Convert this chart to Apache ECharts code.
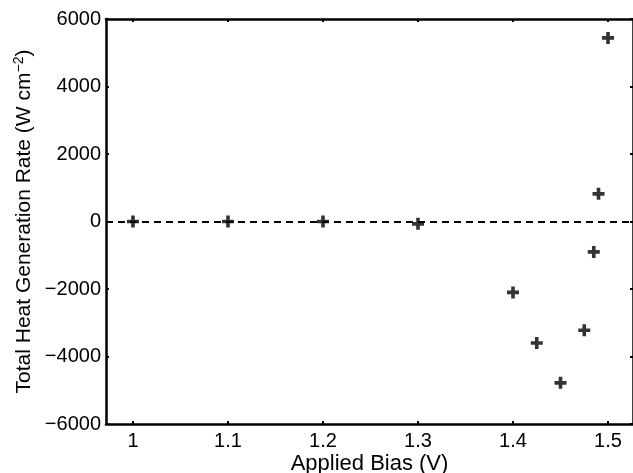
<!DOCTYPE html>
<html>
<head>
<meta charset="utf-8">
<script src="https://cdn.jsdelivr.net/npm/echarts@6/dist/echarts.min.js"></script>
<style>
  html, body { margin: 0; padding: 0; background: #fff; }
  #chart { width: 633px; height: 473px; }
</style>
</head>
<body>
<div id="chart"></div>
<script>
// Applied bias (V) and total heat generation rate (W cm^-2)
const biasValues = [1.0, 1.1, 1.2, 1.3, 1.4, 1.425, 1.45, 1.475, 1.485, 1.49, 1.5];
const heatRate   = [0, 0, 0, -70, -2100, -3600, -4780, -3220, -900, 820, 5440];
const xTicks = [1, 1.1, 1.2, 1.3, 1.4, 1.5];
const yTicks = [-6000, -4000, -2000, 0, 2000, 4000, 6000];

const FONT = 'Liberation Sans, Arial, Helvetica, sans-serif';
const plusPath = 'path://M3.5,0H6.5V3.5H10V6.5H6.5V10H3.5V6.5H0V3.5H3.5Z';

const points = biasValues.map((x, i) => [x, heatRate[i]]);
const fmtNum = v => String(v).replace('-', '\u2212');

const axisLine = { show: true, onZero: false, lineStyle: { color: '#000', width: 2.5 } };
const tickStyle = { inside: true, length: 3, lineStyle: { color: '#000', width: 2 } };

const chart = echarts.init(document.getElementById('chart'), null, { renderer: 'canvas' });
chart.setOption({
  animation: false,
  backgroundColor: '#fff',
  grid: { left: 106, top: 19, right: 0, bottom: 49, containLabel: false, outerBoundsMode: 'none' },
  xAxis: [
    {
      type: 'value', min: 0.9716, max: 1.5263,
      name: 'Applied Bias (V)', nameLocation: 'middle', nameGap: 29, nameMoveOverlap: false,
      nameTextStyle: { fontFamily: FONT, fontSize: 22, color: '#000' },
      axisLine: axisLine,
      axisTick: Object.assign({ customValues: xTicks }, tickStyle),
      axisLabel: { customValues: xTicks, fontFamily: FONT, fontSize: 20, color: '#000', margin: 7,
                   formatter: v => String(Math.round(v * 10) / 10) },
      splitLine: { show: false }
    },
    {
      type: 'value', position: 'top', min: 0.9716, max: 1.5263,
      axisLine: axisLine,
      axisTick: Object.assign({ customValues: xTicks }, tickStyle),
      axisLabel: { show: false },
      splitLine: { show: false }
    }
  ],
  yAxis: [
    {
      type: 'value', min: -6000, max: 6000, interval: 2000,
      name: '{t|Total Heat Generation Rate (W cm}{s|\u22122}{t|)}',
      nameLocation: 'middle', nameGap: 70, nameRotate: 90, nameMoveOverlap: false,
      nameTextStyle: {
        fontFamily: FONT, fontSize: 21, color: '#000',
        rich: {
          t: { fontFamily: FONT, fontSize: 21, color: '#000' },
          s: { fontFamily: FONT, fontSize: 14, color: '#000', verticalAlign: 'top', padding: [0, 0, 10, 0] }
        }
      },
      axisLine: axisLine,
      axisTick: tickStyle,
      axisLabel: { fontFamily: FONT, fontSize: 20, color: '#000', margin: 5, formatter: fmtNum },
      splitLine: { show: false }
    },
    {
      type: 'value', position: 'right', min: -6000, max: 6000, interval: 2000,
      axisLine: axisLine,
      axisTick: tickStyle,
      axisLabel: { show: false },
      splitLine: { show: false }
    }
  ],
  series: [
    {
      type: 'scatter',
      data: points,
      symbol: plusPath,
      symbolSize: 12,
      itemStyle: { color: '#000' },
      markLine: {
        silent: true,
        symbol: 'none',
        label: { show: false },
        lineStyle: { color: '#000', width: 2, type: [7, 5] },
        data: [{ yAxis: 0 }]
      },
      z: 3
    }
  ]
});
</script>
</body>
</html>
